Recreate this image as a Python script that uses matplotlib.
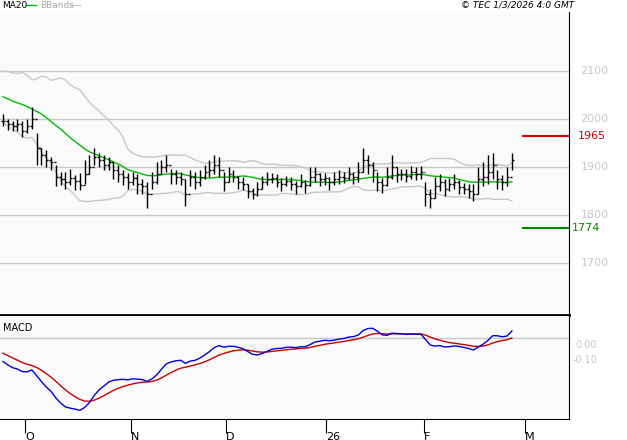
import numpy as np
import pandas as pd
import matplotlib
matplotlib.use("Agg")
import matplotlib.pyplot as plt

pre_closes = [2070, 2085, 2060, 2040, 2075, 2090, 2050, 2030, 2065, 2080,
              2045, 2020, 2050, 2060, 2030, 2010, 2040, 2025, 2005]
closes = [1995, 1990, 1985, 1990, 1975, 1985, 2000, 1940, 1925, 1915,
          1910, 1880, 1875, 1870, 1878, 1872, 1862, 1885, 1900, 1920,
          1915, 1905, 1910, 1895, 1885, 1880, 1870, 1878, 1865, 1860,
          1845, 1870, 1885, 1900, 1905, 1885, 1880, 1875, 1845, 1880,
          1870, 1880, 1890, 1895, 1905, 1895, 1870, 1885, 1880, 1870,
          1865, 1850, 1845, 1855, 1870, 1875, 1878, 1870, 1865, 1872,
          1865, 1860, 1870, 1862, 1880, 1885, 1875, 1878, 1868, 1875,
          1880, 1878, 1885, 1880, 1890, 1915, 1905, 1895, 1870, 1862,
          1880, 1900, 1885, 1885, 1882, 1890, 1885, 1890, 1845, 1835,
          1860, 1870, 1855, 1865, 1870, 1858, 1855, 1850, 1845, 1875,
          1880, 1890, 1905, 1875, 1868, 1880, 1915]
up = [15, 10, 12, 10, 20, 15, 25, 30, 15, 20, 12, 25, 15, 20, 18, 12, 25, 30, 25, 20,
      15, 20, 12, 15, 20, 15, 18, 12, 20, 15, 25, 20, 25, 15, 20, 12, 15, 15, 30, 15,
      20, 15, 15, 20, 20, 25, 20, 15, 15, 12, 15, 15, 12, 15, 12, 15, 10, 15, 12, 10,
      15, 12, 15, 12, 20, 15, 12, 10, 12, 15, 15, 12, 15, 10, 20, 25, 20, 15, 20, 15,
      20, 25, 15, 12, 15, 12, 15, 12, 25, 20, 20, 15, 20, 12, 15, 15, 12, 15, 20, 25,
      30, 35, 25, 20, 15, 20, 15]
dn = [10, 12, 10, 15, 12, 15, 20, 35, 20, 15, 15, 20, 12, 15, 15, 20, 10, 20, 15, 15,
      15, 12, 15, 20, 15, 18, 15, 15, 20, 15, 30, 15, 20, 15, 15, 20, 15, 12, 25, 20,
      15, 20, 15, 15, 20, 15, 20, 15, 12, 15, 12, 15, 12, 15, 15, 12, 12, 12, 15, 12,
      12, 15, 12, 15, 20, 15, 15, 15, 15, 12, 15, 12, 12, 15, 20, 25, 20, 25, 20, 15,
      20, 25, 15, 12, 12, 15, 12, 15, 25, 20, 25, 20, 15, 15, 15, 15, 12, 15, 15, 30,
      20, 25, 30, 20, 15, 20, 20]
month_pos = [4.6, 26.7, 46.5, 67.3, 87.7, 108.75]
month_lbl = ["O", "N", "D", "26", "F", "M"]
price_ticks = [1700, 1800, 1900, 2000, 2100]
resistance, support = 1965, 1774

closes = np.array(closes, float)
allc = pd.Series(pre_closes + list(closes))
n = len(closes)
ma = allc.rolling(20).mean().values[-n:]
sd = allc.rolling(20).std(ddof=0).values[-n:]
ema12 = allc.ewm(span=12, adjust=False).mean()
ema26 = allc.ewm(span=26, adjust=False).mean()
macd = ((ema12 - ema26) / 100.0)
sig = macd.ewm(span=9, adjust=False).mean()
macd = macd.values[-n:]; sig = sig.values[-n:]
x = np.arange(n)
hi = closes + np.array(up); lo = closes - np.array(dn)
opens = np.r_[closes[0], closes[:-1]]

W, H = 627, 440
fig = plt.figure(figsize=(W/100, H/100), dpi=100, facecolor="white")
def ax_at(l, t, r, b):
    return fig.add_axes([l/W, 1-b/H, (r-l)/W, (b-t)/H])
xl = (-0.625, 117.9)
ax = ax_at(0, 12, 569, 315)
ax.set_facecolor("#fafafa")
ax.set_xlim(xl); ax.set_ylim(1592, 2223)
for p in price_ticks:
    ax.axhline(p, color="#c8c8c8", lw=1)
ax.plot(x, ma + 2*sd, color="#c8c8c8", lw=1)
ax.plot(x, ma - 2*sd, color="#c8c8c8", lw=1)
ax.plot(x, ma, color="#00bb00", lw=1)
ax.vlines(x, lo, hi, color="black", lw=1)
ax.hlines(closes, x, x + 0.4, color="black", lw=1)
ax.hlines(opens, x - 0.4, x, color="black", lw=1)
ax.plot([108.4, 117.6], [resistance]*2, color="#dd0000", lw=1.5)
ax.plot([108.4, 117.6], [support]*2, color="#008800", lw=1.5)
ax.set_xticks([]); ax.set_yticks([])
for s in ["top", "left"]:
    ax.spines[s].set_visible(False)
ax.spines["right"].set_color("black")
ax.spines["bottom"].set_linewidth(2)
for p in price_ticks:
    ax.text(1.045, p, str(p), transform=ax.get_yaxis_transform(), color="#c8c8c8",
            fontsize=8, ha="center", va="center")
ax.text(1.04, resistance, str(resistance), transform=ax.get_yaxis_transform(),
        color="#cc0000", fontsize=8, ha="center", va="center")
ax.text(1.005, support, str(support), transform=ax.get_yaxis_transform(),
        color="#008800", fontsize=8, ha="left", va="center")

m = ax_at(0, 316, 569, 419)
m.set_facecolor("#fafafa")
m.set_xlim(xl)
lo_m = min(macd.min(), sig.min()) * 1.12
m.set_ylim(lo_m, -lo_m * 0.27)
m.axhline(0, color="#c8c8c8", lw=1)
m.plot(x, sig, color="#cc0000", lw=1)
m.plot(x, macd, color="#0000dd", lw=1)
m.set_yticks([])
m.set_xticks(month_pos)
m.set_xticklabels(month_lbl, fontsize=8)
m.tick_params(axis="x", direction="out", length=10, pad=-1)
for lab in m.get_xticklabels():
    lab.set_ha("left")
for s in ["top", "left"]:
    m.spines[s].set_visible(False)
m.text(0.005, 0.93, "MACD", transform=m.transAxes, fontsize=7, va="top")
fig.text(597/W, 1-345/H, "0.00", color="#c8c8c8", fontsize=7, ha="right", va="center")
fig.text(597/W, 1-360/H, "-0.10", color="#c8c8c8", fontsize=7, ha="right", va="center")

fig.text(2/W, 1-5/H, "MA20", fontsize=6.5, va="center")
fig.add_artist(plt.Line2D([26/W, 36/W], [1-5/H]*2, color="#00bb00", lw=1))
fig.text(40/W, 1-5/H, "BBands", fontsize=6.5, va="center", color="#aaaaaa")
fig.add_artist(plt.Line2D([70/W, 80/W], [1-5/H]*2, color="#c8c8c8", lw=1))
fig.text(574/W, 1-5/H, "© TEC 1/3/2026 4:0 GMT", fontsize=6.5, ha="right",
         va="center", style="italic")
fig.savefig("out.png", dpi=100)
